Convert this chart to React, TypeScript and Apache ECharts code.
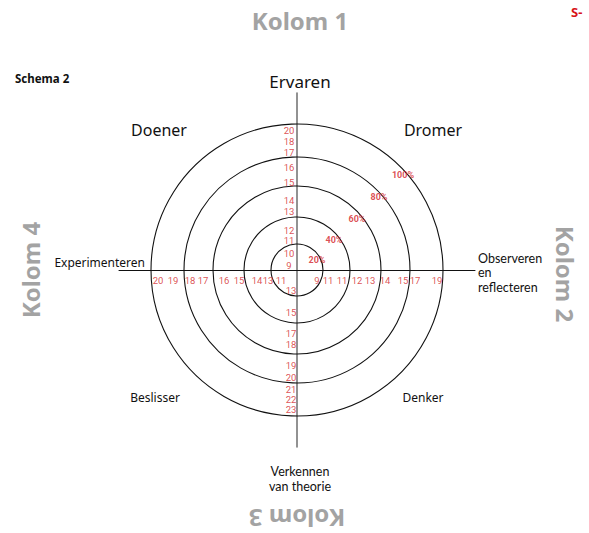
import React, { useEffect, useRef } from "react";
import * as echarts from "echarts";

// Rings (percentages) and their radii in chart units
const ringPct = ["20%", "40%", "60%", "80%", "100%"];
const ringRadius = [26, 53, 84, 113, 146];
const pctLabelX = [20, 37, 60, 82, 106];
const pctLabelY = [10, 30, 51, 73, 95];

// Axis score labels (text) and their distance from the centre
const topTicks = ["20", "18", "17", "16", "15", "14", "13", "12", "11", "10", "9"];
const topTickPos = [140, 129, 118, 103, 88, 70, 59, 40, 30, 17, 5];
const bottomTicks = ["13", "15", "17", "18", "19", "20", "21", "22", "23"];
const bottomTickPos = [20, 42, 63, 74, 95, 107, 119, 129, 139];
const leftTicks = ["20", "19", "18", "17", "16", "15", "14", "13", "11"];
const leftTickPos = [139, 124, 107, 94, 73, 58, 40, 29, 16];
const rightTicks = ["9", "11", "11", "12", "13", "14", "15", "17", "19"];
const rightTickPos = [20, 31, 45, 60, 73, 88, 106, 118, 140];

const RED = "#d31f2a";
const GRAY = "#a3a3a3";
const FONT = "'Noto Sans', 'Open Sans', sans-serif";
const SMALLFONT = "Lato, 'Noto Sans', sans-serif";
const NUMFONT = "Roboto, 'Noto Sans', sans-serif";

export default function App() {
  const ref = useRef<HTMLDivElement>(null);
  useEffect(() => {
    document.body.style.margin = "0";
    const chart = echarts.init(ref.current!, null, { renderer: "svg" });
    const tickLabel = {
      show: true,
      position: "inside",
      formatter: (p: any) => p.name,
      color: RED,
      fontSize: 9.5,
      lineHeight: 9,
      fontFamily: NUMFONT,
    };
    const mk = (names: string[], xs: number[], ys: number[]) =>
      names.map((n, i) => ({ name: n, value: [xs[i], ys[i]] }));
    const txt = (text: string, x: number, y: number, size: number, align = "center", family = FONT) => ({
      type: "text",
      x,
      y,
      style: {
        text,
        font: `${size}px ${family}`,
        fill: "#111",
        align,
        verticalAlign: "middle",
      },
    });

    const option: any = {
      animation: false,
      grid: { left: 119, top: 93, width: 356, height: 354, containLabel: false },
      xAxis: {
        type: "value",
        min: -178,
        max: 178,
        axisLine: { show: true, onZero: true, lineStyle: { color: "#111", width: 1 } },
        axisTick: { show: false },
        axisLabel: { show: false },
        splitLine: { show: false },
      },
      yAxis: {
        type: "value",
        min: -177,
        max: 177,
        axisLine: { show: true, onZero: true, lineStyle: { color: "#777", width: 1.6 } },
        axisTick: { show: false },
        axisLabel: { show: false },
        splitLine: { show: false },
      },
      series: [
        {
          type: "custom",
          silent: true,
          data: ringRadius.map((r, i) => ({ name: ringPct[i], value: [0, 0, r] })),
          renderItem: (params: any, api: any) => {
            const c = api.coord([api.value(0), api.value(1)]);
            const r = api.size([api.value(2), 0])[0];
            return {
              type: "circle",
              shape: { cx: c[0], cy: c[1], r },
              style: { fill: "none", stroke: "#111", lineWidth: 1.1 },
            };
          },
          z: 1,
        },
        {
          type: "scatter",
          symbolSize: 0,
          silent: true,
          data: mk(ringPct, pctLabelX, pctLabelY),
          label: { ...tickLabel, fontWeight: "bold", fontSize: 9 },
          z: 5,
        },
        {
          type: "scatter",
          symbolSize: 0,
          silent: true,
          data: mk(topTicks, topTicks.map(() => -8), topTickPos),
          label: tickLabel,
          z: 5,
        },
        {
          type: "scatter",
          symbolSize: 0,
          silent: true,
          data: mk(bottomTicks, bottomTicks.map(() => -6), bottomTickPos.map((v) => -v)),
          label: tickLabel,
          z: 5,
        },
        {
          type: "scatter",
          symbolSize: 0,
          silent: true,
          data: mk(leftTicks, leftTickPos.map((v) => -v), leftTicks.map(() => -10)),
          label: tickLabel,
          z: 5,
        },
        {
          type: "scatter",
          symbolSize: 0,
          silent: true,
          data: mk(rightTicks, rightTickPos, rightTicks.map(() => -10)),
          label: tickLabel,
          z: 5,
        },
      ],
      graphic: [
        { type: "text", x: 300, y: 20, style: { text: "Kolom 1", font: `bold 24px ${FONT}`, fill: GRAY, align: "center", verticalAlign: "middle" } },
        { type: "text", x: 565, y: 274, rotation: -Math.PI / 2, style: { text: "Kolom 2", font: `bold 24px ${FONT}`, fill: GRAY, align: "center", verticalAlign: "middle" } },
        { type: "text", x: 297, y: 518, rotation: Math.PI, style: { text: "Kolom 3", font: `bold 24px ${FONT}`, fill: GRAY, align: "center", verticalAlign: "middle" } },
        { type: "text", x: 30, y: 270, rotation: Math.PI / 2, style: { text: "Kolom 4", font: `bold 24px ${FONT}`, fill: GRAY, align: "center", verticalAlign: "middle" } },
        { type: "text", x: 15, y: 78, style: { text: "Schema 2", font: `bold 11.5px ${FONT}`, fill: "#111", align: "left", verticalAlign: "middle" } },
        { type: "text", x: 571, y: 12, style: { text: "S-", font: `bold 13px ${FONT}`, fill: "#d7141a", align: "left", verticalAlign: "middle" } },
        txt("Ervaren", 300, 81, 17),
        txt("Doener", 159, 130, 16),
        txt("Dromer", 433, 130, 16),
        txt("Experimenteren", 145, 262, 12, "right"),
        txt("Observeren", 478, 258, 12.5, "left", SMALLFONT),
        txt("en", 478, 272.5, 12.5, "left", SMALLFONT),
        txt("reflecteren", 478, 287, 12.5, "left", SMALLFONT),
        txt("Beslisser", 155, 397, 12),
        txt("Denker", 423, 397, 12),
        txt("Verkennen", 300, 471.5, 12.5, "center", SMALLFONT),
        txt("van theorie", 300, 486, 12.5, "center", SMALLFONT),
      ],
    };
    chart.setOption(option);
    return () => chart.dispose();
  }, []);
  return <div ref={ref} style={{ position: "absolute", left: 0, top: 0, width: 589, height: 533 }} />;
}
